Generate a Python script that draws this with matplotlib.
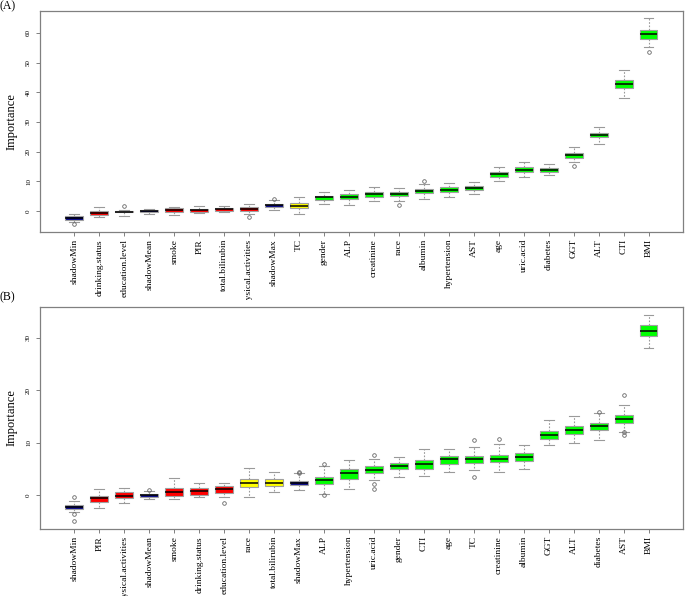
import matplotlib
matplotlib.use("Agg")
import matplotlib.pyplot as plt
from matplotlib.transforms import Bbox, TransformedBbox

plt.rcParams['font.family'] = ['Liberation Serif', 'DejaVu Serif']

# ---- panel A ----
names_a = ["shadowMin", "drinking.status", "education.level", "shadowMean", "smoke", "PIR",
           "total.bilirubin", "physical.activities", "shadowMax", "TC", "gender", "ALP",
           "creatinine", "race", "albumin", "hypertension", "AST", "age", "uric.acid",
           "diabetes", "GGT", "ALT", "CTI", "BMI"]
status_a = ["S", "R", "R", "S", "R", "R", "R", "R", "S", "T", "C", "C",
            "C", "C", "C", "C", "C", "C", "C", "C", "C", "C", "C", "C"]
med_a = [-2.3, -0.6, -0.3, -0.1, 0.3, 0.3, 0.6, 0.7, 1.9, 1.8, 4.6, 4.8,
         5.6, 5.7, 6.6, 7.1, 7.7, 12.4, 13.9, 13.8, 18.8, 25.6, 42.9, 59.6]
q1_a = [-2.9, -1.5, -0.5, -0.4, -0.5, -0.3, 0.0, 0.0, 1.2, 1.0, 3.7, 4.1,
        4.8, 5.0, 5.9, 6.4, 7.0, 11.6, 13.0, 13.1, 17.8, 24.8, 41.6, 57.9]
q3_a = [-1.7, 0.1, 0.1, 0.2, 0.9, 0.8, 1.1, 1.4, 2.3, 2.6, 5.2, 5.6,
        6.3, 6.4, 7.4, 8.0, 8.4, 13.2, 14.7, 14.6, 19.5, 26.4, 44.3, 60.9]
lo_a = [-3.6, -2.1, -1.6, -0.9, -1.5, -0.6, -0.2, -1.0, 0.3, -1.1, 2.4, 1.9,
        3.4, 3.3, 4.0, 4.6, 5.6, 10.2, 11.4, 12.0, 16.4, 22.6, 38.0, 55.3]
hi_a = [-1.0, 1.3, 0.4, 0.7, 1.4, 1.7, 1.7, 2.4, 3.7, 4.6, 6.5, 7.1,
        8.2, 7.8, 9.0, 9.3, 9.6, 14.9, 16.4, 15.7, 21.5, 28.3, 47.4, 64.9]
fliers_a = [[-4.3], [], [1.7], [], [], [], [], [-2.1], [4.1], [], [], [],
            [], [1.9], [10.1], [], [], [], [], [], [15.3], [], [], [53.5]]

# ---- panel B ----
names_b = ["shadowMin", "PIR", "physical.activities", "shadowMean", "smoke", "drinking.status",
           "education.level", "race", "total.bilirubin", "shadowMax", "ALP", "hypertension",
           "uric.acid", "gender", "CTI", "age", "TC", "creatinine", "albumin", "GGT",
           "ALT", "diabetes", "AST", "BMI"]
status_b = ["S", "R", "R", "S", "R", "R", "R", "T", "T", "S", "C", "C",
            "C", "C", "C", "C", "C", "C", "C", "C", "C", "C", "C", "C"]
med_b = [-2.2, -0.6, -0.1, 0.0, 0.6, 0.8, 1.3, 2.4, 2.4, 2.4, 2.9, 4.2,
         4.9, 5.6, 6.0, 6.9, 6.9, 7.0, 7.2, 11.5, 12.4, 13.2, 14.5, 31.3]
q1_b = [-2.55, -1.2, -0.57, -0.27, -0.07, 0.12, 0.5, 1.6, 1.8, 1.9, 2.2, 3.2,
        4.3, 4.95, 5.07, 5.96, 6.15, 6.34, 6.47, 10.8, 11.7, 12.4, 13.8, 30.2]
q3_b = [-1.85, -0.07, 0.57, 0.19, 1.33, 1.45, 1.83, 3.17, 3.05, 2.72, 3.55, 4.95,
        5.58, 6.15, 6.72, 7.49, 7.49, 7.74, 8.0, 12.3, 13.1, 13.8, 15.2, 32.4]
lo_b = [-3.2, -2.5, -1.5, -0.76, -0.76, -0.38, -0.38, -0.32, 0.63, 0.95, 0.3, 1.27,
        2.9, 3.55, 3.68, 4.5, 4.82, 4.44, 5.07, 9.5, 9.9, 10.5, 12.1, 28.0]
hi_b = [-1.0, 1.14, 1.33, 0.82, 3.36, 2.4, 2.4, 5.26, 4.44, 4.19, 5.6, 6.67,
        7.0, 7.24, 8.88, 8.88, 9.14, 9.77, 9.52, 14.3, 15.05, 15.6, 17.2, 34.3]
fliers_b = [[-0.4, -3.5, -4.8], [], [], [1.0], [], [], [-1.5], [], [], [4.5, 4.25], [5.9, 0.1], [],
            [7.7, 2.1, 1.3], [], [], [], [10.6, 3.55], [10.7], [], [],
            [], [15.8], [19.05, 12.0, 11.4], []]

colors = {"S": "#0a0a8c", "R": "#ff0000", "T": "#ffff00", "C": "#00ff00"}


def draw_panel(ax, names, status, med, q1, q3, lo, hi, fliers, ylim, yticks):
    stats = []
    for i in range(len(names)):
        stats.append({"med": med[i], "q1": q1[i], "q3": q3[i],
                      "whislo": lo[i], "whishi": hi[i], "fliers": fliers[i]})
    pos = list(range(1, len(names) + 1))
    bp = ax.bxp(stats, positions=pos, widths=0.72, patch_artist=True,
                boxprops=dict(edgecolor="#a0a0a0", linewidth=0.8),
                medianprops=dict(color="black", linewidth=1.1),
                whiskerprops=dict(color="#9a9a9a", linestyle=(0, (1.5, 1.5)), linewidth=0.8),
                capprops=dict(color="#9a9a9a", linewidth=0.8),
                flierprops=dict(marker="o", markersize=2.6, markerfacecolor="none",
                                markeredgecolor="#666666", markeredgewidth=0.6))
    for patch, s in zip(bp["boxes"], status):
        patch.set_facecolor(colors[s])
    for cap in bp["caps"]:
        x = cap.get_xdata()
        c = (x[0] + x[1]) / 2
        cap.set_xdata([c - 0.2, c + 0.2])
    ax.set_xlim(-0.38, len(names) + 1.38)
    ax.set_ylim(*ylim)
    ax.set_yticks(yticks)
    ax.set_yticklabels([str(v) for v in yticks], rotation=90, va="center", fontsize=5)
    ax.set_xticks(pos)
    ax.set_xticklabels(names, rotation=90, fontsize=6.8)
    ax.set_ylabel("Importance", fontsize=9, labelpad=6)
    ax.tick_params(axis="both", direction="out", length=3, color="#808080", width=0.7)
    ax.tick_params(axis="x", pad=2)
    for sp in ax.spines.values():
        sp.set_color("#808080")
        sp.set_linewidth(0.9)


fig = plt.figure(figsize=(6.85, 5.96), dpi=100)
ax_a = fig.add_axes([0.0584, 0.6107, 0.9386, 0.3708])
ax_b = fig.add_axes([0.0584, 0.1124, 0.9386, 0.3725])

draw_panel(ax_a, names_a, status_a, med_a, q1_a, q3_a, lo_a, hi_a, fliers_a,
           (-7.1, 67.4), [0, 10, 20, 30, 40, 50, 60])
draw_panel(ax_b, names_b, status_b, med_b, q1_b, q3_b, lo_b, hi_b, fliers_b,
           (-6.4, 35.8), [0, 10, 20, 30])

# labels of panel A are cut off where panel B's region starts
clip_a = TransformedBbox(Bbox([[0, 1 - 300 / 596], [1, 1]]), fig.transFigure)
for lab in ax_a.get_xticklabels():
    lab.set_clip_box(clip_a)
    lab.set_clip_on(True)

fig.text(0.0, 1.0, "(A)", ha="left", va="top", fontsize=8.5)
fig.text(0.0, 1 - 291 / 596, "(B)", ha="left", va="top", fontsize=8.5)

fig.savefig("out.png", dpi=100)
